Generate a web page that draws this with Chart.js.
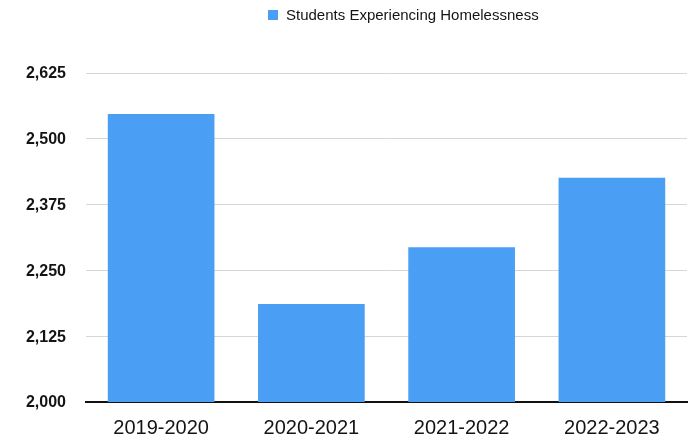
<!DOCTYPE html>
<html>
<head>
<meta charset="utf-8">
<script src="https://cdn.jsdelivr.net/npm/chart.js@4/dist/chart.umd.min.js"></script>
<style>
  html, body { margin: 0; padding: 0; background: #ffffff; }
  #wrap { width: 693px; height: 440px; position: relative; }
</style>
</head>
<body>
<div id="wrap"><canvas id="chart" width="693" height="440"></canvas></div>
<script>
// School years and counts of students experiencing homelessness
const schoolYears = ['2019-2020', '2020-2021', '2021-2022', '2022-2023'];
const studentCounts = [2547, 2186, 2294, 2426];
const seriesName = 'Students Experiencing Homelessness';
const yTickValues = [2000, 2125, 2250, 2375, 2500, 2625];

const BAR_BLUE = '#4a9ff5';
const TEXT_DARK = '#141414';
const FONT = '"Liberation Sans", Arial, Helvetica, sans-serif';

// Simple single-item legend drawn above the plot
const topLegend = {
  id: 'topLegend',
  afterDraw(chart) {
    const ctx = chart.ctx;
    const ds = chart.data.datasets[0];
    ctx.save();
    ctx.fillStyle = ds.backgroundColor;
    ctx.fillRect(268, 10, 10, 10);
    ctx.fillStyle = TEXT_DARK;
    ctx.font = '15px ' + FONT;
    ctx.textBaseline = 'middle';
    ctx.textAlign = 'left';
    ctx.fillText(ds.label, 286, 15.5);
    ctx.restore();
  }
};

new Chart(document.getElementById('chart'), {
  type: 'bar',
  data: {
    labels: schoolYears,
    datasets: [{
      label: seriesName,
      data: studentCounts,
      backgroundColor: BAR_BLUE,
      borderWidth: 0,
      categoryPercentage: 1.0,
      barPercentage: 0.71
    }]
  },
  options: {
    responsive: false,
    animation: false,
    layout: { padding: { top: 73, right: 6, bottom: 0, left: 0 } },
    plugins: {
      legend: { display: false },
      tooltip: { enabled: false }
    },
    scales: {
      x: {
        grid: { display: false, drawTicks: false },
        border: { display: true, color: '#111111', width: 2 },
        ticks: {
          color: TEXT_DARK,
          font: { family: FONT, size: 20 },
          padding: 14,
          maxRotation: 0
        },
        afterFit(scale) { scale.height = 38; }
      },
      y: {
        min: 2000,
        max: 2625,
        afterBuildTicks(scale) {
          scale.ticks = yTickValues.map(v => ({ value: v }));
        },
        grid: { color: '#d6d6d6', lineWidth: 1, drawTicks: false },
        border: { display: false },
        ticks: {
          color: TEXT_DARK,
          font: { family: FONT, size: 16, weight: 'bold' },
          padding: 20,
          labelOffset: 1,
          callback: v => v.toLocaleString('en-US')
        },
        afterFit(scale) { scale.width = 86; }
      }
    }
  },
  plugins: [topLegend]
});
</script>
</body>
</html>
